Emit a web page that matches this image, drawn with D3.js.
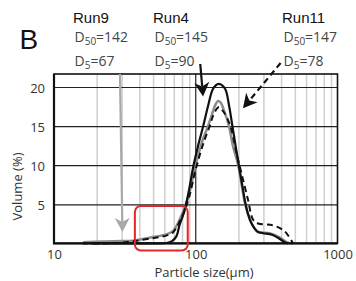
<!DOCTYPE html>
<html>
<head>
<meta charset="utf-8">
<script src="https://cdn.jsdelivr.net/npm/d3@7"></script>
<style>
    body { margin: 0; background: white; }
    #canvas-div { width: 356px; height: 281px; }
    .tick-label { font-family: "Open Sans", sans-serif; font-size: 13px; fill: #333; }
    .run-label { font-family: "Liberation Sans", Arial, sans-serif; font-size: 15px; fill: #111; }
    .d-label { font-family: "Open Sans", sans-serif; font-size: 14px; fill: #444; }
</style>
</head>
<body>
<div id="canvas-div"></div>
<script>
// tick values
const sizeTicks = [10, 100, 1000];
const minorSizes = [20, 30, 40, 50, 60, 70, 80, 90, 200, 300, 400, 500, 600, 700, 800, 900];
const volTicks = [5, 10, 15, 20];

// Run4 (black solid)
const run4Size = [18, 30, 50, 62, 68, 73, 77, 81, 83.6, 87.8, 91.5, 96, 103.3, 112.9, 121.5, 131.1, 138.3, 145.2, 153.7, 162.7, 172.2, 181.4, 191.3, 201.8, 212.6, 223.2, 234.3, 246.9, 260.4, 274.7, 300, 345, 390, 423, 447];
const run4Vol = [0, 0, 0, 0.05, 0.3, 0.9, 2.4, 3.5, 4.3, 6.0, 7.7, 9.8, 12.3, 15.0, 17.4, 19.6, 20.2, 20.4, 20.2, 19.6, 17.5, 15.0, 12.4, 9.9, 7.5, 5.3, 3.7, 2.6, 1.9, 1.45, 1.3, 1.1, 0.6, 0.15, 0];

// Run9 (grey solid)
const run9Size = [16, 22, 30, 36, 47, 62, 69, 73, 77.1, 83.6, 90.7, 98.4, 106.7, 113.8, 122.1, 131.8, 138.3, 143.6, 150, 157.5, 171.6, 182.2, 199.3, 210.8, 223.2, 236.2, 246.8, 274.7, 332, 390, 447, 485];
const run9Vol = [0.15, 0.25, 0.3, 0.35, 0.73, 1.15, 1.57, 2.2, 3.06, 4.6, 6.6, 9.6, 12.0, 13.6, 15.0, 16.8, 17.8, 18.2, 18.0, 17.1, 15.0, 12.6, 10.0, 7.5, 5.0, 3.5, 2.6, 1.5, 1.3, 0.76, 0.1, 0];

// Run11 (black dashed)
const run11Size = [16, 22, 28, 35, 47, 62, 69, 73, 77, 83.6, 90.7, 98.4, 106.7, 115.7, 125.5, 133.8, 145.2, 157.5, 175.5, 191.3, 209.8, 233.5, 253.3, 275, 350, 423, 485];
const run11Vol = [0, 0, 0.05, 0.25, 0.6, 1.0, 1.4, 2.0, 2.8, 4.2, 6.2, 9.0, 11.3, 13.3, 15.0, 16.5, 17.4, 16.8, 15.0, 12.0, 9.0, 5.6, 3.06, 2.55, 2.3, 1.57, 0];

// run labels
const runNames = ["Run9", "Run4", "Run11"];
const d50Values = [142, 145, 147];
const d5Values = [67, 90, 78];

const plot = { left: 54, right: 337.5, top: 74, bottom: 243.4 };

const svg = d3.select("#canvas-div")
    .append("svg")
    .attr("width", 356)
    .attr("height", 281)
    .style("background-color", "white");

const xScale = d3.scaleLog().domain([10, 1000]).range([plot.left, plot.right]);
const yScale = d3.scaleLinear().domain([0, 21.66]).range([plot.bottom, plot.top]);
const plotH = plot.bottom - plot.top;
const plotW = plot.right - plot.left;

//minor vertical grid
svg.append("g")
    .attr("transform", "translate(0," + plot.bottom + ")")
    .call(d3.axisBottom(xScale).tickValues(minorSizes).tickSize(-plotH).tickFormat(""))
    .call(g => g.select(".domain").remove())
    .call(g => g.selectAll("line").attr("stroke", "#cfcfcf").attr("stroke-width", 1.5));

//horizontal grid
svg.append("g")
    .attr("transform", "translate(" + plot.left + ",0)")
    .call(d3.axisLeft(yScale).tickValues(volTicks).tickSize(-plotW).tickFormat(""))
    .call(g => g.select(".domain").remove())
    .call(g => g.selectAll("line").attr("stroke", "#222").attr("stroke-width", 1.2));

//line at 100
svg.append("line")
    .attr("x1", xScale(100)).attr("x2", xScale(100))
    .attr("y1", plot.top).attr("y2", plot.bottom)
    .attr("stroke", "#222").attr("stroke-width", 1.2);

//axes labels
svg.append("g")
    .attr("transform", "translate(0," + plot.bottom + ")")
    .call(d3.axisBottom(xScale).tickValues(sizeTicks).tickSize(0).tickPadding(6).tickFormat(d3.format("d")))
    .call(g => g.select(".domain").remove())
    .call(g => g.selectAll("text").attr("class", "tick-label").attr("font-family", null).attr("font-size", null).attr("fill", null));

svg.append("g")
    .attr("transform", "translate(" + plot.left + ",0)")
    .call(d3.axisLeft(yScale).tickValues(volTicks).tickSize(0).tickPadding(9))
    .call(g => g.select(".domain").remove())
    .call(g => g.selectAll("text").attr("class", "tick-label").attr("dy", "0.42em").attr("font-family", null).attr("font-size", null).attr("fill", null));

svg.append("text")
    .attr("class", "tick-label")
    .attr("x", 204).attr("y", 277)
    .attr("text-anchor", "middle")
    .text("Particle size(μm)");

svg.append("text")
    .attr("class", "tick-label")
    .attr("transform", "translate(22,186.5) rotate(-90)")
    .attr("text-anchor", "middle")
    .text("Volume (%)");

//curves
const lineGenerator = d3.line()
    .x(d => xScale(d[0]))
    .y(d => yScale(d[1]))
    .curve(d3.curveCatmullRom.alpha(0.5));

const run9 = run9Size.map((s, i) => [s, run9Vol[i]]);
const run11 = run11Size.map((s, i) => [s, run11Vol[i]]);
const run4 = run4Size.map((s, i) => [s, run4Vol[i]]);

svg.append("path").datum(run9)
    .attr("d", lineGenerator)
    .attr("fill", "none").attr("stroke", "#8c8c8c").attr("stroke-width", 2.5);

svg.append("path").datum(run11)
    .attr("d", lineGenerator)
    .attr("fill", "none").attr("stroke", "#111").attr("stroke-width", 2)
    .attr("stroke-dasharray", "6,4");

svg.append("path").datum(run4)
    .attr("d", lineGenerator)
    .attr("fill", "none").attr("stroke", "#111").attr("stroke-width", 2.2);

//border
svg.append("rect")
    .attr("x", plot.left).attr("y", plot.top)
    .attr("width", plotW).attr("height", plotH)
    .attr("fill", "none").attr("stroke", "#111").attr("stroke-width", 1.6);
svg.append("path")
    .attr("d", "M" + plot.left + "," + plot.top + "V" + plot.bottom + "H" + plot.right)
    .attr("fill", "none").attr("stroke", "#111").attr("stroke-width", 2.2);

//red box
svg.append("rect")
    .attr("x", xScale(37.2)).attr("y", yScale(4.78))
    .attr("width", xScale(87.8) - xScale(37.2))
    .attr("height", yScale(-0.91) - yScale(4.78))
    .attr("rx", 6)
    .attr("fill", "none").attr("stroke", "#e3262b").attr("stroke-width", 2);

//arrows
function drawArrow(from, to, color, dashed) {
    const x1 = xScale(from[0]), y1 = yScale(from[1]);
    const x2 = xScale(to[0]), y2 = yScale(to[1]);
    const a = Math.atan2(y2 - y1, x2 - x1);
    const len = 14, half = 7.5, notch = 10;
    const pt = (l, w) => [x2 - l * Math.cos(a) - w * Math.sin(a), y2 - l * Math.sin(a) + w * Math.cos(a)];
    const back = pt(notch, 0);
    svg.append("line")
        .attr("x1", x1).attr("y1", y1).attr("x2", back[0]).attr("y2", back[1])
        .attr("stroke", color).attr("stroke-width", 2.2)
        .attr("stroke-dasharray", dashed ? "6,4" : null);
    svg.append("path")
        .attr("d", "M" + [x2, y2] + "L" + pt(len, half) + "L" + back + "L" + pt(len, -half) + "Z")
        .attr("fill", color);
}

drawArrow([29.2, 21.66], [30.4, 1.46], "#a9a9a9", false);
drawArrow([107.6, 22.94], [112.6, 18.79], "#111", false);
drawArrow([396.8, 23.07], [215.3, 17.28], "#111", true);

//labels
svg.append("text")
    .attr("x", 19.5).attr("y", 49)
    .attr("font-family", "Liberation Sans, Arial, sans-serif")
    .attr("font-size", 28)
    .attr("fill", "#111")
    .text("B");

const labelX = [73, 153, 282];

svg.selectAll(".run-label")
    .data(runNames)
    .enter()
    .append("text")
    .attr("class", "run-label")
    .attr("x", (d, i) => labelX[i])
    .attr("y", 23)
    .text(d => d);

const d50 = svg.selectAll(".d50")
    .data(d50Values)
    .enter()
    .append("text")
    .attr("class", "d-label d50")
    .attr("x", (d, i) => labelX[i] + 1.5)
    .attr("y", 41.5);
d50.append("tspan").text("D");
d50.append("tspan").attr("font-size", 10).attr("dy", 3).text("50");
d50.append("tspan").attr("dy", -3).text(d => "=" + d);

const d5 = svg.selectAll(".d5")
    .data(d5Values)
    .enter()
    .append("text")
    .attr("class", "d-label d5")
    .attr("x", (d, i) => labelX[i] + 1.5)
    .attr("y", 66);
d5.append("tspan").text("D");
d5.append("tspan").attr("font-size", 10).attr("dy", 3).text("5");
d5.append("tspan").attr("dy", -3).text(d => "=" + d);
</script>
</body>
</html>
